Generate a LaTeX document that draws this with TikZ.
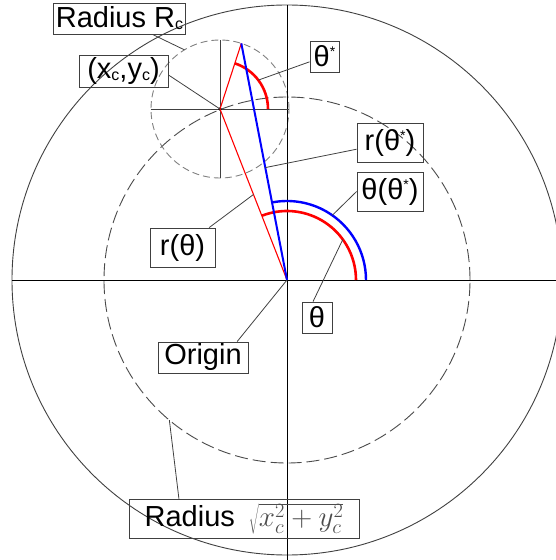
\documentclass[tikz,border=0pt]{standalone}
\usepackage{fix-cm}
\usepackage{fontspec}
\setmainfont{Liberation Sans}
\usepackage{xcolor}
\definecolor{linegray}{HTML}{404040}
\definecolor{dashgray}{HTML}{4A4A4A}
\definecolor{thetared}{HTML}{FF0000}
\definecolor{thetablue}{HTML}{0000FF}
\usepackage{tikz}
\usetikzlibrary{calc}

\newcommand{\subc}{\raisebox{-2pt}{\fontsize{16}{16}\selectfont c}}
\newcommand{\supstar}{\raisebox{10pt}{\fontsize{14}{14}\selectfont *}}

\tikzset{
  label box/.style={draw=linegray, line width=0.8pt, inner sep=2pt},
  leader/.style={draw=linegray, line width=0.8pt},
  axis line/.style={black, line width=0.8pt},
}

\begin{document}
\begin{tikzpicture}[x=1pt, y=1pt, font=\fontsize{29}{30}\selectfont]
  \useasboundingbox (-287,-280) rectangle (269,280);
  \clip (-287,-280) rectangle (269,280);
  \coordinate (O) at (0,0);
  \coordinate (C) at (-67,171);
  \coordinate (P) at ($(C)+(72:69)$);

  % circles and axes
  \draw[linegray, line width=0.9pt] (O) circle[radius=275];
  \draw[dashgray, line width=0.9pt, dash pattern=on 13pt off 5pt] (O) circle[radius=183];
  \draw[gray, line width=0.9pt, dash pattern=on 7pt off 4pt] (C) circle[radius=69];
  \draw[axis line] (-275,0) -- (269,0);
  \draw[axis line] (0,275) -- (0,-280);
  \draw[axis line, black!75] ($(C)+(-69,0)$) -- ($(C)+(69,0)$);
  \draw[axis line, black!75] ($(C)+(0,-69)$) -- ($(C)+(0,69)$);
  \fill (C) circle[radius=1.8];

  % angles
  \draw[thetablue, line width=2.4pt] (79,0) arc[start angle=0, end angle=100.9, radius=79];
  \draw[thetared, line width=2.6pt] (69,0) arc[start angle=0, end angle=111.4, radius=69];
  \draw[thetared, line width=2.6pt] ($(C)+(48,0)$) arc[start angle=0, end angle=72, radius=48];
  \draw[thetared, line width=1.1pt] (O) -- (C) -- (P);
  \draw[thetablue, line width=2pt] (O) -- (P);

  % labels
  \node[label box, minimum width=131pt, minimum height=31pt] (rc) at (-167.5,261.5) {Radius R\subc};
  \node[label box, minimum width=89pt, minimum height=32pt] (xy) at (-163.5,209) {(x\subc,y\subc)};
  \node[label box, minimum width=29pt, minimum height=31pt] (ts) at (37.5,223.5) {θ\supstar};
  \node[label box, minimum width=66pt, minimum height=39pt] (rts) at (103,137.5) {r(θ\supstar)};
  \node[label box, minimum width=66pt, minimum height=39pt] (tts) at (103,88.5) {θ(θ\supstar)};
  \node[label box, minimum width=65pt, minimum height=39pt] (rt) at (-104.5,32.5) {r(θ)};
  \node[label box, minimum width=30pt, minimum height=31pt] (th) at (30,-37.5) {θ};
  \node[label box, minimum width=90pt, minimum height=31pt] (org) at (-84,-77.5) {Origin};
  \node[label box, minimum width=230pt, minimum height=39pt] (rad) at (-43,-238.5)
    {Radius\hspace{14pt}{\color{black!70}$\sqrt{x_c^2+y_c^2}$}};

  % leaders
  \draw[leader] ($(C)+(121:69)$) -- (rc);
  \draw[leader] (C) -- (xy.-5);
  \draw[leader] ($(C)+(37:48)$) -- (ts);
  \draw[leader] ($(O)!0.475!(P)$) -- (rts);
  \draw[leader] ($(O)+(55:79)$) -- (tts.west);
  \draw[leader] ($(O)!0.5!(C)$) -- (rt);
  \draw[leader] ($(O)+(36:69)$) -- (th.104);
  \draw[leader] (O) -- (org.25);
  \draw[leader] ($(O)+(230:183)$) -- (rad.163);
\end{tikzpicture}
\end{document}
